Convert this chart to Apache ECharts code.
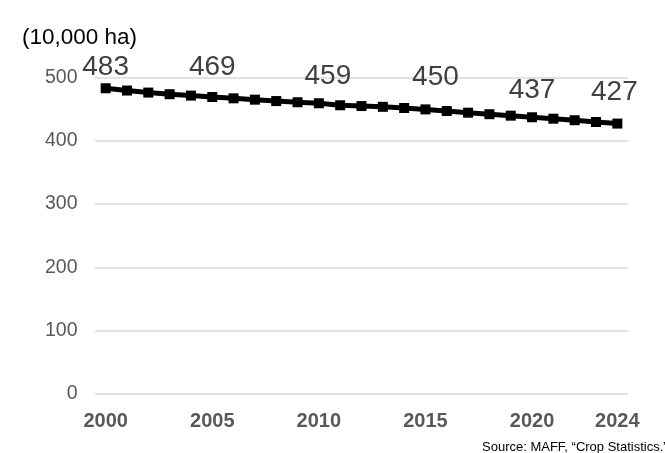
<!DOCTYPE html>
<html><head><meta charset="utf-8">
<script src="https://cdn.jsdelivr.net/npm/echarts@6/dist/echarts.min.js"></script>
<style>html,body{margin:0;padding:0;background:#fff}#c{width:665px;height:453px}</style>
</head><body><div id="c"></div>
<script>
const years = ["2000","2001","2002","2003","2004","2005","2006","2007","2008","2009","2010","2011","2012","2013","2014","2015","2016","2017","2018","2019","2020","2021","2022","2023","2024"];
const area = [483.0,479.4,476.2,473.6,471.4,469.2,467.1,465.0,462.8,460.9,459.3,456.1,454.9,453.7,451.8,449.6,447.1,444.4,442.0,439.7,437.2,434.9,432.5,429.7,427.2];
const labelYears = ["2000","2005","2010","2015","2020","2024"];
const labelText = {"2000":"483","2005":"469","2010":"459","2015":"450","2020":"437","2024":"427"};
const yTicks = [0,100,200,300,400,500];

// label offsets (style only)
const labelOffsets = {"2000":[0,-2],"2005":[0,-11],"2010":[9,-8],"2015":[10,-13],"2020":[0,-8],"2024":[-3,-12]};

const chart = echarts.init(document.getElementById('c'), null, {renderer:'canvas'});
chart.setOption({
  animation:false,
  grid:{left:95,right:37,top:77.5,bottom:59},
  title:{text:"(10,000 ha)",left:17,top:21,textStyle:{fontFamily:"Liberation Sans, Arial",fontSize:22.5,fontWeight:'normal',color:'#000'}},
  graphic:[{type:'text',left:482,top:440.5,style:{text:"Source: MAFF, \u201cCrop Statistics.\u201d",font:"13px 'Liberation Sans', Arial",fill:'#000'}}],
  xAxis:{type:'category',data:years,boundaryGap:true,
    axisLine:{show:false},axisTick:{show:false},
    axisLabel:{interval:0,margin:17,fontFamily:"Liberation Sans, Arial",fontSize:20,fontWeight:'bold',color:'#595959',
      formatter:(v)=>labelYears.includes(v)?v:''}},
  yAxis:{type:'value',min:yTicks[0],max:yTicks[yTicks.length-1],interval:100,
    axisLine:{show:false},axisTick:{show:false},
    splitLine:{lineStyle:{color:'#d9d9d9',width:1.5}},
    axisLabel:{margin:17.5,fontFamily:"Liberation Sans, Arial",fontSize:19.5,color:'#595959'}},
  series:[{type:'line',data:area.map((v,i)=>{
      const y=years[i];
      const o={value:v};
      if(labelText[y]){o.label={show:true,position:'top',distance:0,offset:labelOffsets[y],formatter:labelText[y]};}
      return o;
    }),
    symbol:'rect',symbolSize:10,
    lineStyle:{color:'#000',width:5},itemStyle:{color:'#000'},
    label:{show:false,fontFamily:"Liberation Sans, Arial",fontSize:28,color:'#404040'}}]
});
</script></body></html>
